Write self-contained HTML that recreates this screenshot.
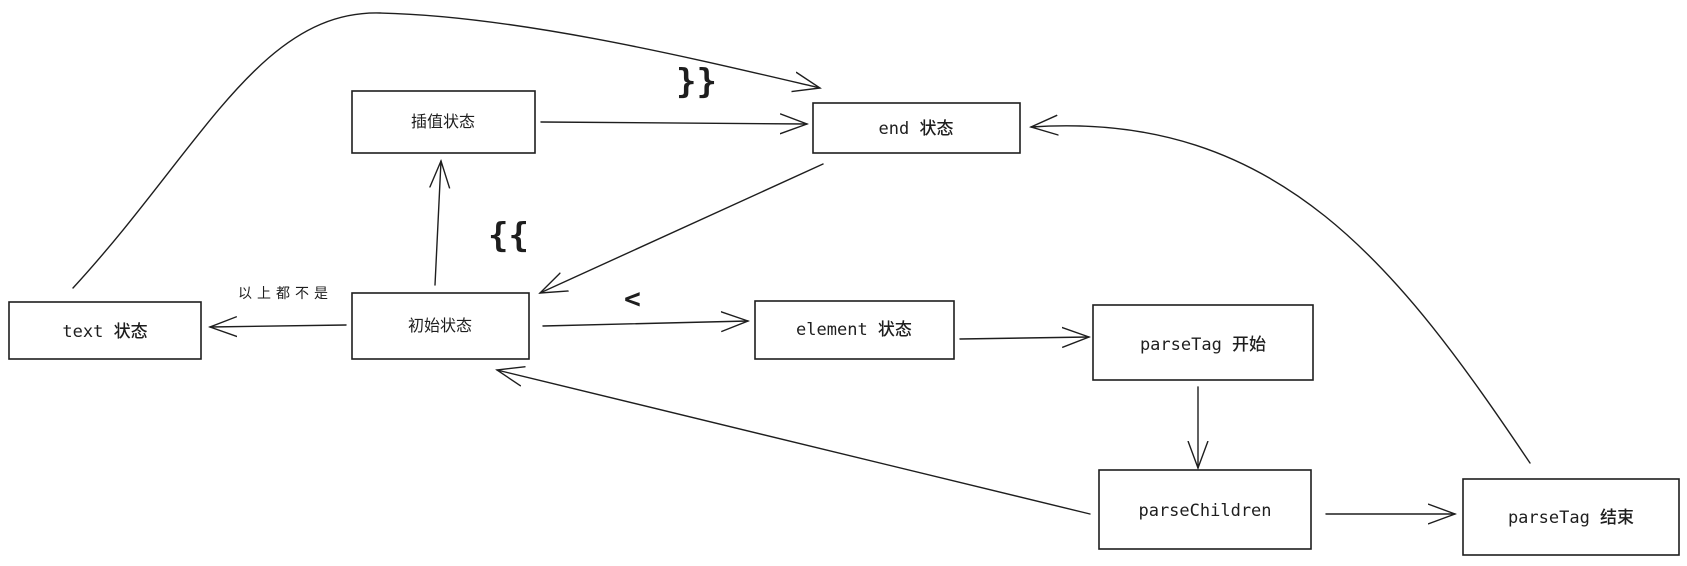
<!DOCTYPE html>
<html><head><meta charset="utf-8"><style>
html,body{margin:0;padding:0;background:#fff;}
svg{display:block;}
.b{fill:#fff;stroke:#1e1e1e;stroke-width:1.6;}
.l{fill:none;stroke:#1e1e1e;stroke-width:1.4;stroke-linecap:round;}
.t{font-family:"DejaVu Sans Mono","Noto Sans CJK SC",monospace;font-size:17px;fill:#1e1e1e;text-anchor:middle;dominant-baseline:middle;font-weight:500;}
.c{font-family:"Liberation Sans","Noto Sans CJK SC",sans-serif;font-size:16px;fill:#1e1e1e;text-anchor:middle;dominant-baseline:middle;}
.br{font-family:"DejaVu Sans Mono",monospace;font-size:34px;font-weight:bold;fill:#1e1e1e;}
</style></head><body>
<svg width="1687" height="566" viewBox="0 0 1687 566">
<defs>
<marker id="A" markerWidth="30" markerHeight="30" refX="27" refY="15" orient="auto" markerUnits="userSpaceOnUse">
<path d="M0,5 L27,15 L0,25" fill="none" stroke="#1e1e1e" stroke-width="1.4"/></marker></defs>

<rect class="b" x="352" y="91" width="183" height="62"/>
<rect class="b" x="813" y="103" width="207" height="50"/>
<rect class="b" x="9" y="302" width="192" height="57"/>
<rect class="b" x="352" y="293" width="177" height="66"/>
<rect class="b" x="755" y="301" width="199" height="58"/>
<rect class="b" x="1093" y="305" width="220" height="75"/>
<rect class="b" x="1099" y="470" width="212" height="79"/>
<rect class="b" x="1463" y="479" width="216" height="76"/>

<text class="c" x="443" y="123">插值状态</text>
<text class="t" x="916" y="129">end 状态</text>
<text class="t" x="105" y="332">text 状态</text>
<text class="c" x="440" y="327">初始状态</text>
<text class="t" x="854" y="330">element 状态</text>
<text class="t" x="1203" y="345">parseTag 开始</text>
<text class="t" x="1205" y="511">parseChildren</text>
<text class="t" x="1571" y="518">parseTag 结束</text>

<path class="l" marker-end="url(#A)" d="M541,122 L807,124"/>
<path class="l" marker-end="url(#A)" d="M823,164 L540,293"/>
<path class="l" marker-end="url(#A)" d="M435,285 L441,161"/>
<path class="l" marker-end="url(#A)" d="M346,325 L210,327"/>
<path class="l" marker-end="url(#A)" d="M543,326 L748,321"/>
<path class="l" marker-end="url(#A)" d="M960,339 L1089,337"/>
<path class="l" marker-end="url(#A)" d="M1198,387 L1198,468"/>
<path class="l" marker-end="url(#A)" d="M1090,514 L497,370"/>
<path class="l" marker-end="url(#A)" d="M1326,514 L1455,514"/>
<path class="l" marker-end="url(#A)" d="M1530,463 C1400,270 1280,110 1031,127"/>
<path class="l" marker-end="url(#A)" d="M73,288 C200,150 260,10 380,13 C520,16 700,60 820,88"/>

<text class="br" x="676" y="93">}}</text>
<text class="br" x="488" y="247">{{</text>
<text class="br" x="624" y="308" style="font-size:28px">&lt;</text>
<text x="238" y="298" style="font-family:'Noto Sans CJK SC',sans-serif;font-size:14px;letter-spacing:5px;fill:#1e1e1e">以上都不是</text>
</svg>
</body></html>
